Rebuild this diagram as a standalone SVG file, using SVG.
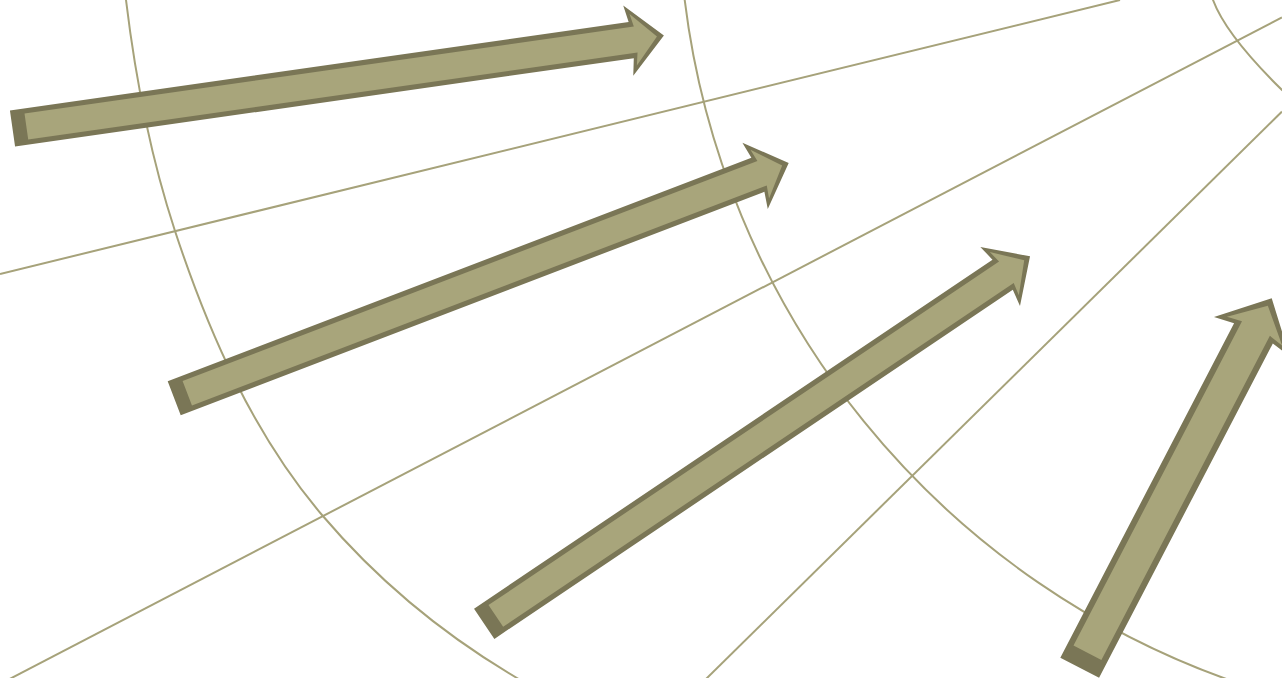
<svg xmlns="http://www.w3.org/2000/svg" width="1282" height="678" viewBox="0 0 1282 678">
<style>
.grid{fill:none;stroke:#a6a27a;stroke-width:2}
.ao{fill:#7a7656}
.ai{fill:#a8a57b}
</style>
<defs>
<g id="arrowLong">
<polygon class="ao" points="0,-18.2 625,-18.2 622,-35.5 658,0 622,35.5 625,18.2 0,18.2"/>
<polygon class="ai" points="14,-13.1 629.5,-13.1 627,-26 651,0 627,26 629.5,13.1 14,13.1"/>
</g>
<g id="arrowShort">
<polygon class="ao" points="0,-18.2 314,-18.2 311,-35.5 347,0 311,35.5 314,18.2 0,18.2"/>
<polygon class="ai" points="14,-13.1 318.5,-13.1 316,-26 340,0 316,26 318.5,13.1 14,13.1"/>
</g>
</defs>
<rect width="1282" height="678" fill="#ffffff"/>
<g id="grid">
<line class="grid" x1="0" y1="274" x2="1120" y2="0"/>
<line class="grid" x1="0" y1="684" x2="1282" y2="17.4"/>
<line class="grid" x1="700" y1="684.9" x2="1282" y2="111.5"/>
<path class="grid" d="M125,-6 L126,0 C135.4,78.1 150.4,156.2 175,231 C208.4,332.3 252.9,433.8 322,515 C376.9,579.5 444,635.1 517,678 L530,686"/>
<path class="grid" d="M684.1,-5 A829.3,829.3 0 0 0 1243.6,685"/>
<path class="grid" d="M1211,-6 L1213,0 Q1225.9,35 1282,90 L1290,97"/>
</g>
<g id="arrow1" transform="translate(12.5,128.5) rotate(-8.13)"><use href="#arrowLong"/></g>
<g id="arrow2" transform="translate(174.2,398.3) rotate(-20.95)"><use href="#arrowLong"/></g>
<g id="arrow3" transform="translate(484.2,623.8) rotate(-33.95)"><use href="#arrowLong"/></g>
<g id="arrow4" transform="translate(1079.7,667.7) rotate(-62.54) scale(1.2)"><use href="#arrowShort"/></g>
</svg>
